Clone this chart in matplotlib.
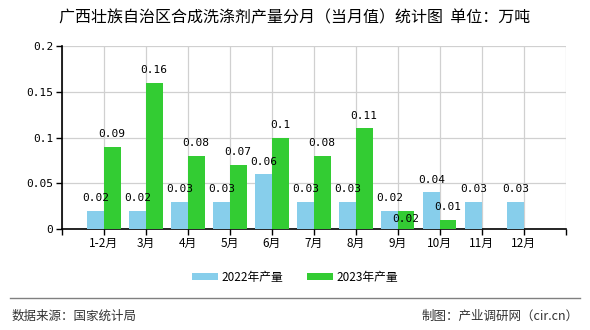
import matplotlib
matplotlib.use("Agg")
import matplotlib.pyplot as plt
import numpy as np

plt.rcParams['font.family'] = ['Noto Sans CJK SC', 'DejaVu Sans']

# data
months = ["1-2月", "3月", "4月", "5月", "6月", "7月", "8月", "9月", "10月", "11月", "12月"]
prod_2022 = [0.02, 0.02, 0.03, 0.03, 0.06, 0.03, 0.03, 0.02, 0.04, 0.03, 0.03]
prod_2023 = [0.09, 0.16, 0.08, 0.07, 0.1, 0.08, 0.11, 0.02, 0.01, None, None]
y_ticks = [0, 0.05, 0.1, 0.15, 0.2]
y_labels = ["0", "0.05", "0.1", "0.15", "0.2"]

c2022 = "#87CEEB"
c2023 = "#33CC33"
num_font = "DejaVu Sans Mono"

fig = plt.figure(figsize=(5.9, 3.3), dpi=100)
ax = fig.add_axes([0.1046, 0.306, 0.8542, 0.5546])

x = np.arange(len(months))
w = 0.4
ax.bar(x - w / 2, prod_2022, width=w, color=c2022, label="2022年产量", zorder=3)
x23 = [i for i, v in enumerate(prod_2023) if v is not None]
v23 = [v for v in prod_2023 if v is not None]
ax.bar(np.array(x23) + w / 2, v23, width=w, color=c2023, label="2023年产量", zorder=3)

# value labels
for i, v in enumerate(prod_2022):
    ax.annotate(f"{v:g}", (i - w / 2, v), xytext=(0, 9), textcoords="offset points",
                ha="center", va="center", fontsize=8, family=num_font, zorder=4)
for i, v in zip(x23, v23):
    off = 9
    if months[i] == "9月":
        off = -6  # label pushed down to avoid the 2022 label
    ax.annotate(f"{v:g}", (i + w / 2, v), xytext=(0, off), textcoords="offset points",
                ha="center", va="center", fontsize=8, family=num_font, zorder=4)

ax.set_xlim(-1, len(months))
ax.set_ylim(0, 0.2)
ax.set_xticks(np.arange(-1, len(months) + 1))
ax.set_xticklabels([""] + months + [""], fontsize=8.5)
ax.set_yticks(y_ticks)
ax.set_yticklabels(y_labels, fontsize=8, family=num_font)
ax.grid(True, color="#d0d0d0", linewidth=0.9, zorder=0)
ax.tick_params(length=4, width=1, color="black", pad=2)
for s in ["top", "right"]:
    ax.spines[s].set_visible(False)
for s in ["left", "bottom"]:
    ax.spines[s].set_color("black")
    ax.spines[s].set_linewidth(1.2)

fig.text(0.5, 0.945, "广西壮族自治区合成洗涤剂产量分月（当月值）统计图  单位：万吨",
         ha="center", va="center", fontsize=11.5)

fig.legend(loc="center", bbox_to_anchor=(0.5, 0.16), ncol=2, frameon=False,
           fontsize=8.5, handlelength=2.2, handleheight=0.6, columnspacing=2.0,
           handletextpad=0.3)

fig.add_artist(plt.Line2D([0.017, 0.983], [0.097, 0.097], color="#808080", linewidth=1))
fig.text(0.02, 0.042, "数据来源：国家统计局", ha="left", va="center", fontsize=9, color="#333333")
fig.text(0.98, 0.042, "制图：产业调研网（cir.cn）", ha="right", va="center", fontsize=9, color="#333333")

fig.savefig("out.png", dpi=100)
